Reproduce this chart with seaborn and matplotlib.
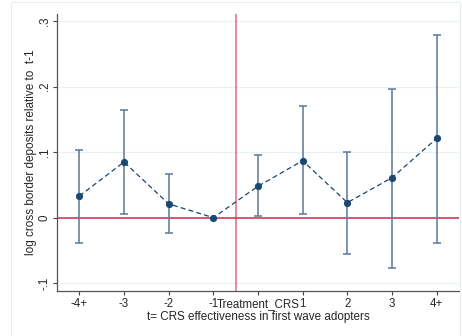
import numpy as np
import pandas as pd
import seaborn as sns
import matplotlib.pyplot as plt
from matplotlib.patches import Rectangle

periods = ["-4+", "-3", "-2", "-1", "Treatment_CRS", "1", "2", "3", "4+"]
coef = [0.033, 0.085, 0.021, 0.0, 0.048, 0.087, 0.023, 0.061, 0.121]
ci_low = [-0.038, 0.005, -0.024, 0.0, 0.002, 0.005, -0.055, -0.077, -0.038]
ci_high = [0.103, 0.164, 0.067, 0.0, 0.095, 0.170, 0.101, 0.197, 0.279]
yticks = [-0.1, 0, 0.1, 0.2, 0.3]
ytick_labels = ["-.1", "0", ".1", ".2", ".3"]

NAVY = "#1a476f"
CI_COL = "#5b7896"
RED = "#d42a4f"
GRID = "#eaf1f2"


def main():
    sns.set_style("white")
    plt.rcParams["font.family"] = ["Liberation Sans", "DejaVu Sans"]

    df = pd.DataFrame({"period": periods, "coef": coef,
                       "lo": ci_low, "hi": ci_high})

    fig = plt.figure(figsize=(4.62, 3.36), dpi=100)
    fig.patches.append(Rectangle((11 / 462, -0.01), 449 / 462, 1 - 2 / 336 + 0.01,
                                 transform=fig.transFigure, fill=False,
                                 edgecolor="#e6eef0", linewidth=0.8))
    ax = fig.add_axes([57 / 462, 1 - 291 / 336, 402 / 462, 277 / 336])

    for y in yticks:
        ax.axhline(y, color=GRID, linewidth=0.9, zorder=0)

    # confidence intervals (the reference period has none)
    ci = df[df["period"] != "-1"]
    xpos = [periods.index(p) for p in ci["period"]]
    ax.errorbar(xpos, ci["coef"],
                yerr=[ci["coef"] - ci["lo"], ci["hi"] - ci["coef"]],
                fmt="none", ecolor=CI_COL, elinewidth=1.1, capsize=3,
                capthick=1.1, zorder=2)

    ax.axhline(0, color=RED, linewidth=1.1, zorder=1)
    ax.axvline(3.5, color=RED, linewidth=1.1, alpha=0.7, zorder=1)

    sns.pointplot(data=df, x="period", y="coef", order=periods, color=NAVY,
                  linestyles="--", markers="o", errorbar=None,
                  markersize=4.5, linewidth=0.9, ax=ax, zorder=3)
    for line in ax.lines[-1:]:
        line.set_dashes((4, 2.5))

    ax.set_xlim(-0.5, 8.5)
    ax.set_ylim(-0.112, 0.311)
    ax.set_yticks(yticks)
    ax.set_yticklabels(ytick_labels, rotation=90, va="center")
    ax.set_xticks(range(len(periods)))
    ax.set_xticklabels(periods)
    ax.tick_params(axis="both", labelsize=8.3, length=3, width=0.8,
                   color="#444444", direction="out", bottom=True, left=True)
    ax.tick_params(axis="x", pad=2)
    ax.tick_params(axis="y", pad=1.5)

    for side in ["top", "right"]:
        ax.spines[side].set_visible(False)
    for side in ["left", "bottom"]:
        ax.spines[side].set_color("#555555")
        ax.spines[side].set_linewidth(0.9)

    ax.set_xlabel("t= CRS effectiveness in first wave adopters", fontsize=8.4,
                  labelpad=1)
    ax.set_ylabel("log cross border deposits relative to  t-1", fontsize=8.5,
                  labelpad=1)

    fig.savefig("out.png", dpi=100)
    plt.close(fig)


if __name__ == "__main__":
    main()
